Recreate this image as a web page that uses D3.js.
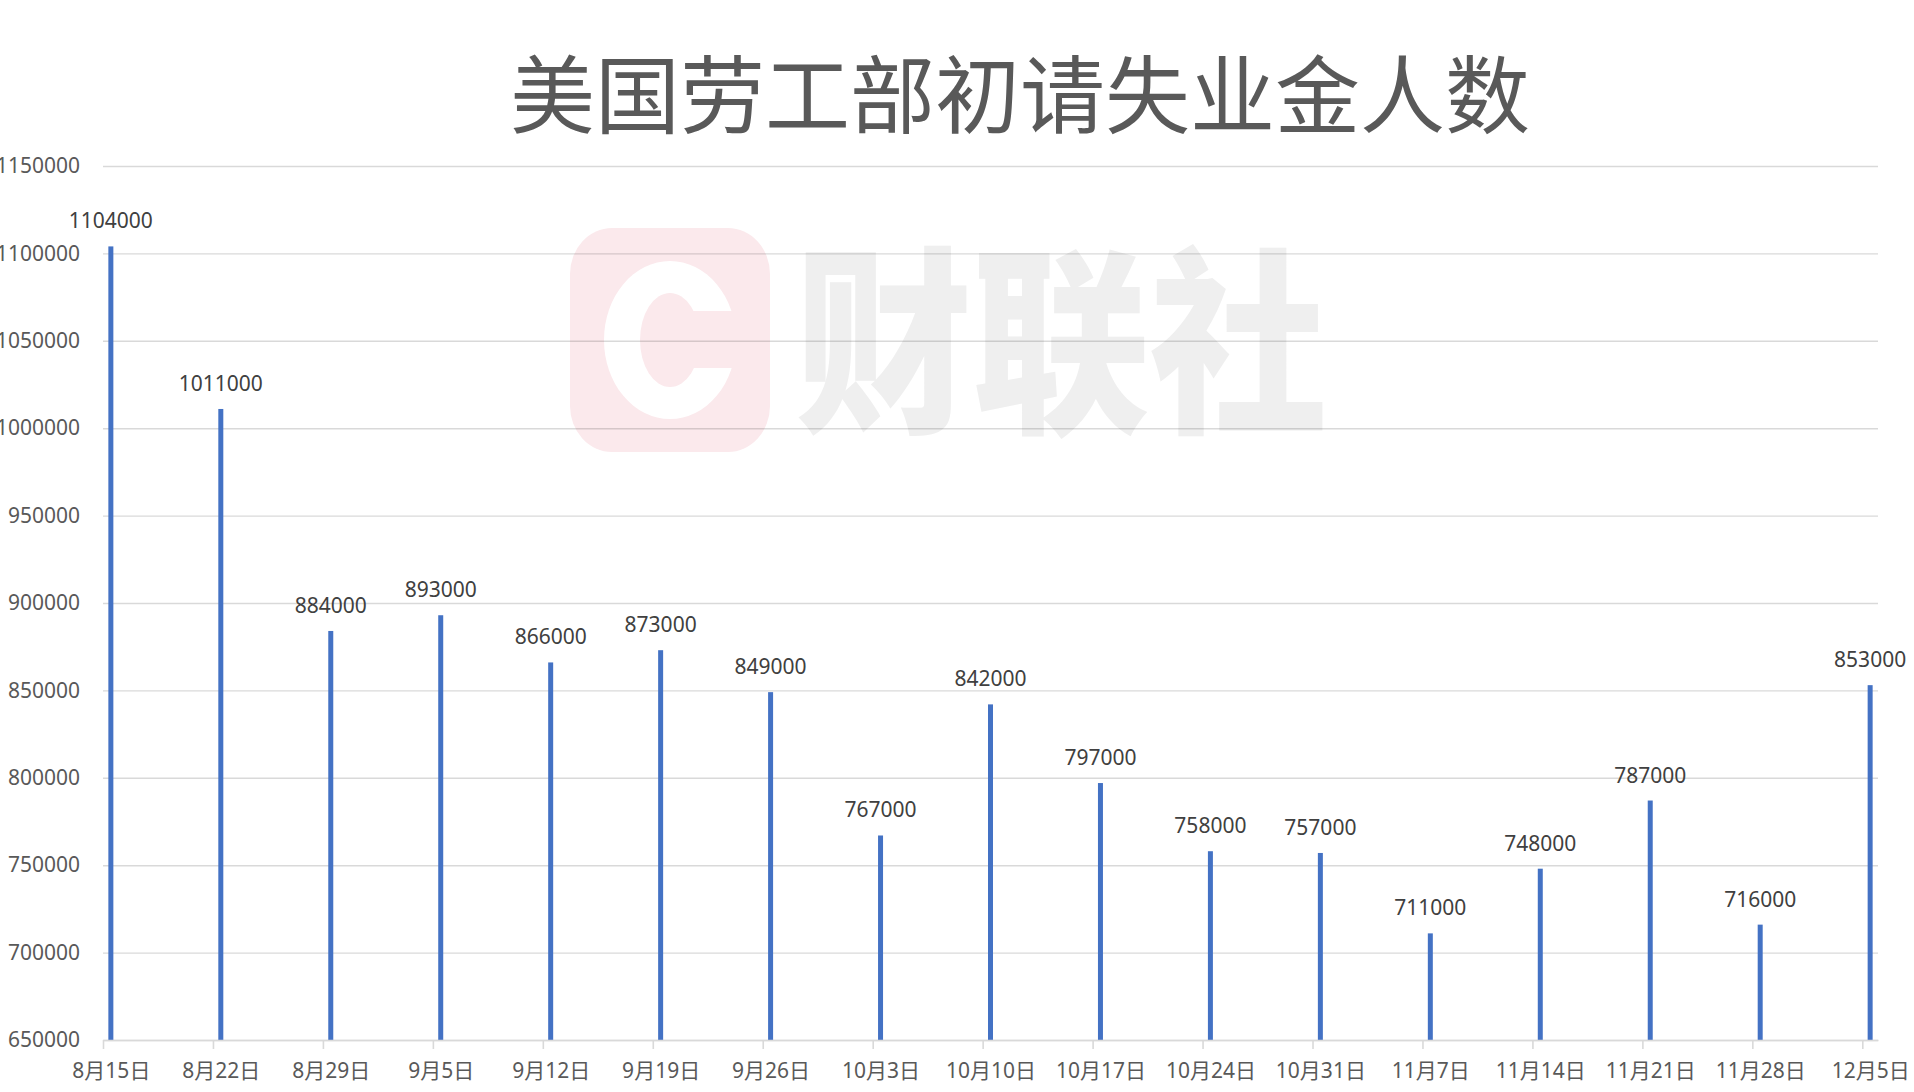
<!DOCTYPE html>
<html>
<head>
<meta charset="utf-8">
<script src="https://cdn.jsdelivr.net/npm/d3@7"></script>
<style>
  html, body { margin: 0; padding: 0; background: #fff; }
  svg { display: block; }
</style>
</head>
<body>
<svg id="chart" width="1914" height="1092"></svg>
<script>
const title = "美国劳工部初请失业金人数";
const dates = ["2020-08-15","2020-08-22","2020-08-29","2020-09-05","2020-09-12","2020-09-19","2020-09-26","2020-10-03","2020-10-10","2020-10-17","2020-10-24","2020-10-31","2020-11-07","2020-11-14","2020-11-21","2020-11-28","2020-12-05"];
const dateLabels = ["8月15日","8月22日","8月29日","9月5日","9月12日","9月19日","9月26日","10月3日","10月10日","10月17日","10月24日","10月31日","11月7日","11月14日","11月21日","11月28日","12月5日"];
const claims = [1104000,1011000,884000,893000,866000,873000,849000,767000,842000,797000,758000,757000,711000,748000,787000,716000,853000];
const yTicks = [650000,700000,750000,800000,850000,900000,950000,1000000,1050000,1100000,1150000];

const svg = d3.select("#chart");
const W = 1914, H = 1092;
const plot = { left: 103, right: 1878, top: 166, bottom: 1040 };
const DAY = 864e5;
const parsed = dates.map(d => new Date(d + "T00:00:00Z"));
const xDomainEnd = new Date(parsed[parsed.length - 1].getTime() + DAY);

const x = d3.scaleUtc().domain([parsed[0], xDomainEnd]).range([plot.left, plot.right]);
const y = d3.scaleLinear().domain([yTicks[0], yTicks[yTicks.length - 1]]).range([plot.bottom, plot.top]);
const halfDay = (x(new Date(parsed[0].getTime() + DAY)) - x(parsed[0])) / 2;

const numFont = "'Noto Sans', 'Noto Sans CJK SC', sans-serif";
const cjkFont = "'Noto Sans CJK SC', 'Noto Sans', sans-serif";

// Title
svg.append("text")
  .attr("x", 1020).attr("y", 89)
  .attr("text-anchor", "middle")
  .attr("dominant-baseline", "central")
  .attr("font-family", cjkFont)
  .attr("font-size", 85)
  .attr("fill", "#595959")
  .text(title);

// Watermark (behind gridlines)
const wm = svg.append("g").attr("class", "watermark");
wm.append("rect")
  .attr("x", 570).attr("y", 228).attr("width", 200).attr("height", 224)
  .attr("rx", 42).attr("ry", 46)
  .attr("fill", "#fbe9ec");
const cx = 670, cy = 340;
const mask = svg.append("defs").append("mask").attr("id", "cmask");
mask.append("rect").attr("x", 0).attr("y", 0).attr("width", W).attr("height", H).attr("fill", "#fff");
mask.append("ellipse").attr("cx", cx).attr("cy", cy).attr("rx", 30).attr("ry", 47).attr("fill", "#000");
mask.append("rect").attr("x", cx).attr("y", 311).attr("width", 90).attr("height", 57).attr("fill", "#000");
wm.append("ellipse")
  .attr("cx", cx).attr("cy", cy).attr("rx", 66).attr("ry", 79)
  .attr("fill", "#fff").attr("mask", "url(#cmask)");
wm.append("text")
  .attr("x", 795).attr("y", 330)
  .attr("dominant-baseline", "central")
  .attr("font-family", cjkFont)
  .attr("font-weight", 900)
  .attr("font-size", 200)
  .attr("textLength", 532)
  .attr("lengthAdjust", "spacingAndGlyphs")
  .attr("fill", "#efefef")
  .text("财联社");

// Gridlines + y labels
const yAxis = d3.axisLeft(y)
  .tickValues(yTicks)
  .tickSize(-(plot.right - plot.left))
  .tickPadding(23)
  .tickFormat(d3.format("d"));
const gy = svg.append("g").attr("transform", `translate(${plot.left},0)`).call(yAxis);
gy.select(".domain").remove();
gy.selectAll(".tick line")
  .attr("stroke", "#000").attr("stroke-opacity", 0.15).attr("stroke-width", 1.4);
gy.selectAll(".tick text")
  .attr("font-family", numFont).attr("font-size", 21).attr("fill", "#595959");

// Bars
svg.append("g").selectAll("rect")
  .data(claims)
  .join("rect")
  .attr("x", (d, i) => x(parsed[i]) + halfDay - 2.5)
  .attr("width", 5)
  .attr("y", d => y(d))
  .attr("height", d => y(yTicks[0]) - y(d))
  .attr("fill", "#4472C4");

// X axis
const xAxis = d3.axisBottom(x)
  .tickValues(parsed)
  .tickSize(9)
  .tickSizeOuter(0)
  .tickPadding(14)
  .tickFormat((d, i) => dateLabels[i]);
const gx = svg.append("g").attr("transform", `translate(0,${plot.bottom})`).call(xAxis);
gx.select(".domain").attr("stroke", "#d9d9d9").attr("stroke-width", 1.6);
gx.selectAll(".tick line").attr("stroke", "#d9d9d9").attr("stroke-width", 1.6);
gx.selectAll(".tick text")
  .attr("dx", halfDay)
  .attr("font-family", numFont).attr("font-size", 21).attr("fill", "#595959");

// Data labels
svg.append("g").selectAll("text")
  .data(claims)
  .join("text")
  .attr("x", (d, i) => x(parsed[i]) + halfDay)
  .attr("y", d => y(d) - 18)
  .attr("text-anchor", "middle")
  .attr("font-family", numFont)
  .attr("font-size", 21)
  .attr("fill", "#404040")
  .text(d => d);
</script>
</body>
</html>
